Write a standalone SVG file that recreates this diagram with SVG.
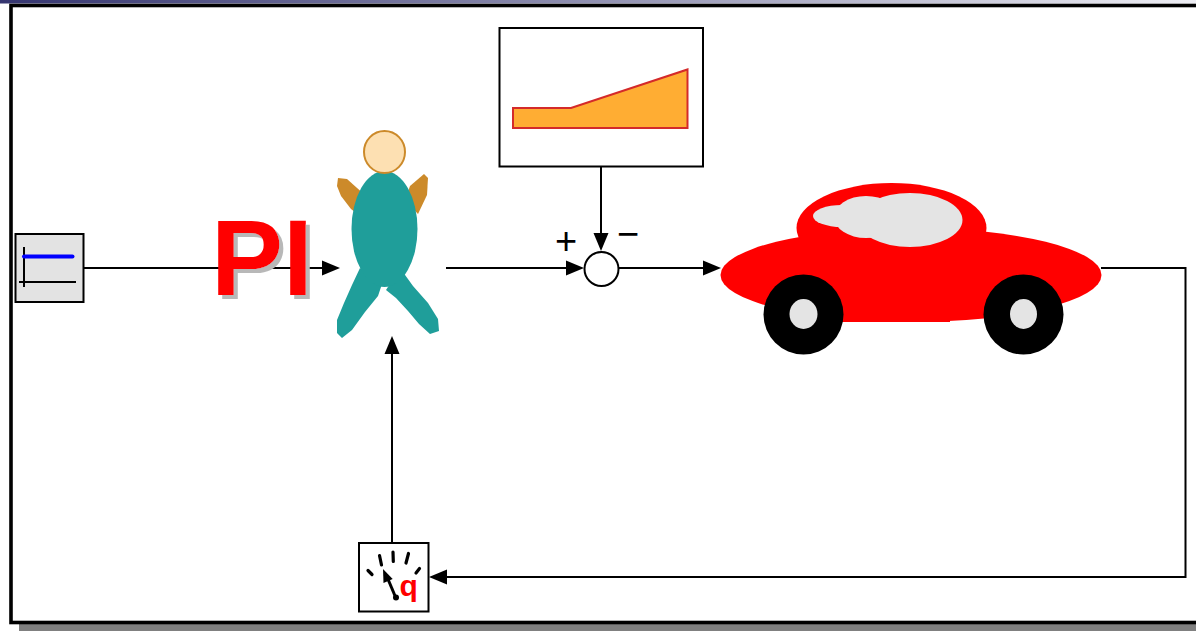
<svg xmlns="http://www.w3.org/2000/svg" width="1196" height="631" viewBox="0 0 1196 631">
  <style>
    .wire { fill: none; stroke: #000; stroke-width: 2; }
    .blk { stroke: #000; stroke-width: 2; }
    .tick { stroke: #000; stroke-width: 3.2; stroke-linecap: round; }
    .teal { fill: #1f9e9a; }
    .arm { fill: #cc8a2a; }
    .glass { fill: #e4e4e4; }
  </style>
  <defs>
    <linearGradient id="bar" x1="0" y1="0" x2="1" y2="0">
      <stop offset="0" stop-color="#353570"/>
      <stop offset="1" stop-color="#eeeef4"/>
    </linearGradient>
    <marker id="arrow" markerUnits="userSpaceOnUse" viewBox="0 -8 18 16" markerWidth="18" markerHeight="16" refX="1" refY="0" orient="auto">
      <path d="M0,-7.5 L18,0 L0,7.5 z" fill="#000"/>
    </marker>
    <!-- grey drop shadow behind the controller label -->
    <filter id="label-shadow" x="-10%" y="-10%" width="130%" height="130%">
      <feFlood flood-color="#b8b8b8"/>
      <feComposite in2="SourceAlpha" operator="in"/>
      <feOffset dx="4" dy="4" result="shade"/>
      <feMerge>
        <feMergeNode in="shade"/>
        <feMergeNode in="SourceGraphic"/>
      </feMerge>
    </filter>
  </defs>

  <!-- page background, title bar and framed panel with drop shadow -->
  <rect x="0" y="0" width="1196" height="631" fill="#fff"/>
  <rect x="0" y="0" width="1196" height="3.5" fill="url(#bar)"/>
  <rect x="19" y="14" width="1210" height="617" fill="#808080"/>
  <rect x="11" y="5.5" width="1210" height="617" fill="#fff" stroke="#000" stroke-width="3.6"/>

  <!-- signal lines -->
  <g id="connectors">
    <path class="wire" d="M84,268 H323" marker-end="url(#arrow)"/>
    <path class="wire" d="M446,268 H567" marker-end="url(#arrow)"/>
    <path class="wire" d="M601,167 V234" marker-end="url(#arrow)"/>
    <path class="wire" d="M619,268 H704" marker-end="url(#arrow)"/>
    <path class="wire" d="M1101,268 H1185.5 V577 H446" marker-end="url(#arrow)"/>
    <path class="wire" d="M392,542 V353" marker-end="url(#arrow)"/>
  </g>

  <!-- step input -->
  <g id="step">
    <rect class="blk" x="15.5" y="234" width="68" height="68" fill="#e3e3e3"/>
    <line x1="24" y1="247" x2="24" y2="287" stroke="#000" stroke-width="2"/>
    <line x1="19" y1="282" x2="76" y2="282" stroke="#000" stroke-width="2"/>
    <line x1="24" y1="256.5" x2="72.5" y2="256.5" stroke="#0000ff" stroke-width="4" stroke-linecap="round"/>
  </g>

  <!-- PI controller label -->
  <g id="pi-label">
    <text x="211" y="295" fill="#ff0000" filter="url(#label-shadow)" font-family="'Liberation Sans', Arial, sans-serif" font-weight="bold" font-size="108">PI</text>
  </g>

  <!-- driver figure -->
  <g id="driver">
    <path class="arm" d="M338,178 L347,179 L366,196 L360,216 L351,209 L341,196 L337,186 z"/>
    <path class="arm" d="M424,174 L428,178 L427,195 L418,214 L405,200 L410,186 z"/>
    <path class="teal" d="M360,268 L382,284 L378,296 L365,312 L352,330 L342,338 L337,333 L337,320 L344,303 L352,285 z"/>
    <path class="teal" d="M400,268 L413,286 L428,303 L438,319 L439,331 L430,334 L419,324 L408,311 L396,298 L386,290 z"/>
    <ellipse class="teal" cx="384.5" cy="229" rx="33" ry="58"/>
    <ellipse cx="384.5" cy="152" rx="20.5" ry="21" fill="#fde0b2" stroke="#cc8a2a" stroke-width="2"/>
  </g>

  <!-- ramp reference -->
  <g id="ramp">
    <rect class="blk" x="499.5" y="28" width="203.5" height="138.5" fill="#fff"/>
    <path d="M513,108 H571 L687.5,69.5 V128 H513 z" fill="#ffad33" stroke="#d42a2a" stroke-width="2"/>
  </g>

  <!-- summing junction -->
  <g id="sum">
    <circle class="blk" cx="601.5" cy="269" r="17" fill="#fff"/>
    <text x="566" y="254" font-family="'Liberation Sans', Arial, sans-serif" font-size="38" text-anchor="middle">+</text>
    <text x="628" y="247" font-family="'Liberation Sans', Arial, sans-serif" font-size="38" text-anchor="middle">−</text>
  </g>

  <!-- vehicle -->
  <g id="car">
    <ellipse cx="891.5" cy="228" rx="95" ry="45" fill="#ff0000"/>
    <ellipse cx="911" cy="275" rx="190.5" ry="47" fill="#ff0000"/>
    <rect x="770" y="275" width="180" height="47" fill="#ff0000"/>
    <ellipse class="glass" cx="842" cy="216" rx="29" ry="11"/>
    <ellipse class="glass" cx="866" cy="217" rx="32" ry="21"/>
    <ellipse class="glass" cx="910" cy="220" rx="52.5" ry="27"/>
    <circle cx="803.5" cy="314.5" r="40" fill="#000"/>
    <ellipse class="glass" cx="803.5" cy="314" rx="14" ry="15"/>
    <circle cx="1023.5" cy="314.5" r="40" fill="#000"/>
    <ellipse class="glass" cx="1023.5" cy="314" rx="13.5" ry="15"/>
  </g>

  <!-- speed sensor -->
  <g id="sensor">
    <rect class="blk" x="359" y="543" width="69.5" height="68.5" fill="#fff"/>
    <line class="tick" x1="368" y1="570.5" x2="372" y2="574.5"/>
    <line class="tick" x1="379.5" y1="555.5" x2="381.5" y2="565"/>
    <line class="tick" x1="393" y1="552" x2="393.3" y2="561.5"/>
    <line class="tick" x1="408.5" y1="553.5" x2="406" y2="563"/>
    <line class="tick" x1="419.5" y1="568.5" x2="416" y2="573"/>
    <line x1="387.5" y1="578" x2="395.5" y2="597" stroke="#000" stroke-width="3"/>
    <path d="M383,569 L392.7,579 L383.5,583 z" fill="#000"/>
    <circle cx="396" cy="597.5" r="3" fill="#000"/>
    <text x="399.5" y="596" font-family="'Liberation Sans', Arial, sans-serif" font-weight="bold" font-size="30" fill="#ff0000">q</text>
  </g>
</svg>
